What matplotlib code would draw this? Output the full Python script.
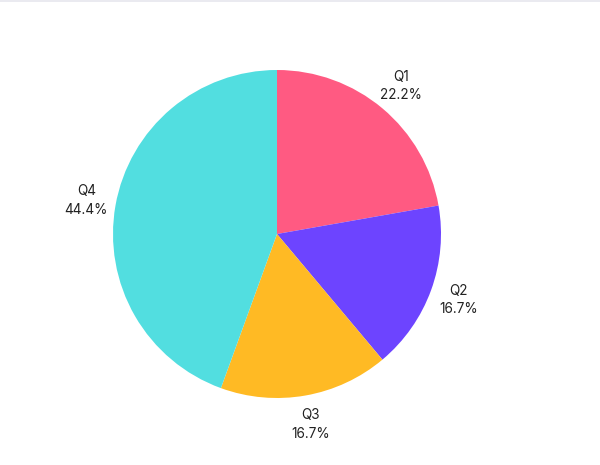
import matplotlib
matplotlib.use("Agg")
import matplotlib.pyplot as plt
from matplotlib.lines import Line2D

categories = ["Q1", "Q2", "Q3", "Q4"]
values = [4, 3, 3, 8]
colors = ["#FF5A82", "#6D44FF", "#FFBA24", "#52DEE0"]

plt.rcParams['font.family'] = ['Inter', 'DejaVu Sans']

fig = plt.figure(figsize=(6, 4.65), dpi=100)
# pie center (277,234) px, radius 164 px
cx, cy, r = 277, 234, 164
W, H = 600, 465
ax = fig.add_axes([(cx - r) / W, (H - cy - r) / H, 2 * r / W, 2 * r / H])
total = sum(values)
labels = [f"{c}\n{v / total * 100:.1f}%" for c, v in zip(categories, values)]
wedges, texts = ax.pie(values, colors=colors, startangle=90, counterclock=False,
                       labels=labels, labeldistance=1.18, radius=1,
                       wedgeprops=dict(linewidth=0),
                       textprops=dict(fontsize=9.8, color="#222222", ha="center",
                                      va="center", linespacing=1.4))
for t in texts:
    t.set_ha("center")
ax.set_xlim(-1, 1)
ax.set_ylim(-1, 1)
ax.set_aspect("equal")
ax.axis("off")

fig.add_artist(Line2D([0, 1], [1 - 1 / H, 1 - 1 / H], transform=fig.transFigure,
                      color="#E6E6EE", linewidth=1.2))
fig.savefig("out.png", dpi=100, facecolor="white")
